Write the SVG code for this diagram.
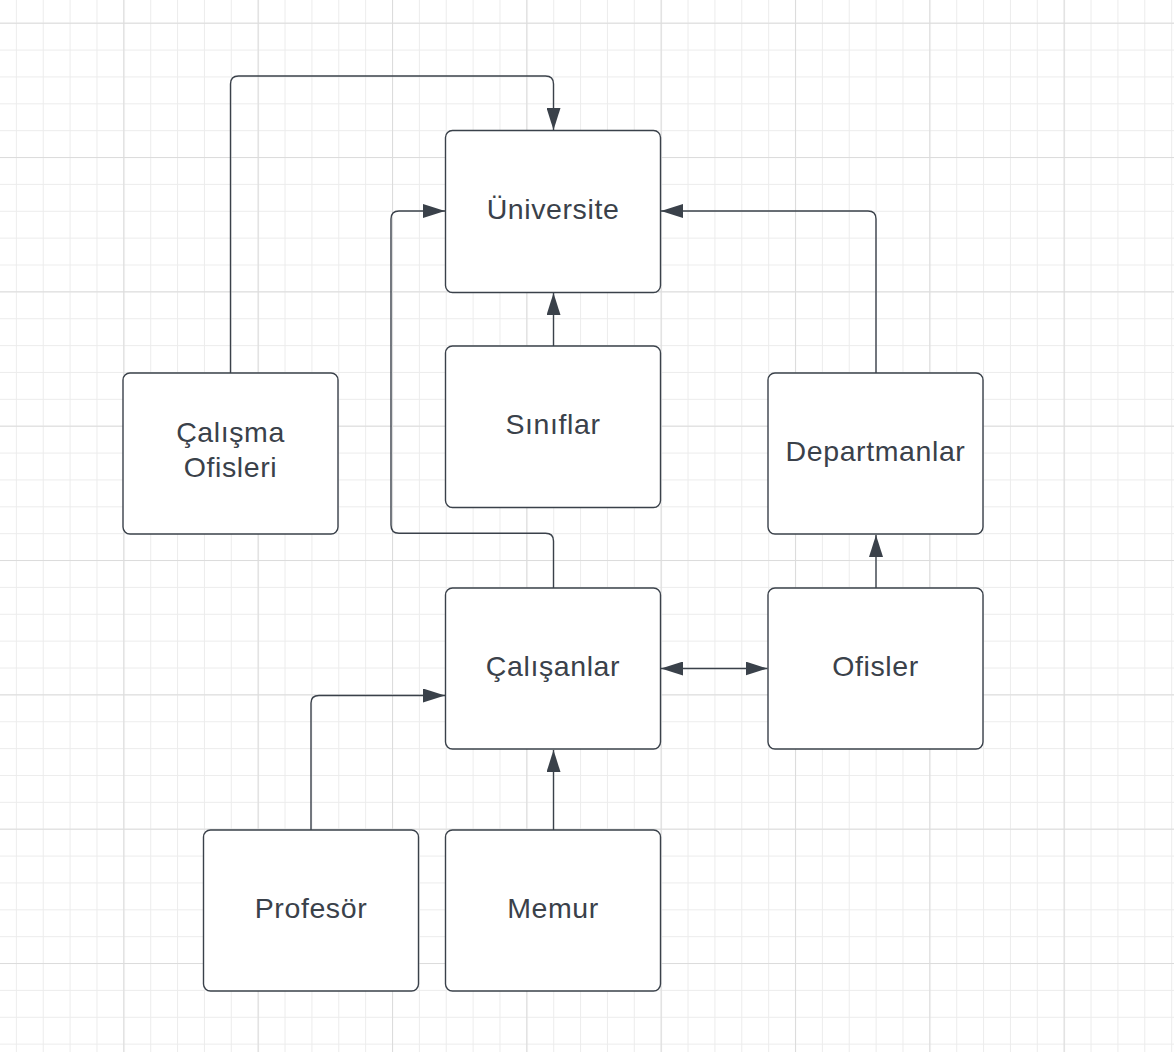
<svg xmlns="http://www.w3.org/2000/svg" width="1174" height="1052" viewBox="0 0 1174 1052">
<style>
.box{fill:#fff;stroke:#3a414a;stroke-width:1.4}
.lbl{font-family:"Liberation Sans",Arial,sans-serif;font-size:28.5px;letter-spacing:0.6px;fill:#3a414a;text-anchor:middle}
.edge{fill:none;stroke:#3a414a;stroke-width:1.4}
</style>
<defs>
<pattern id="minor" patternUnits="userSpaceOnUse" x="-11" y="22.7" width="26.867" height="26.867">
<path d="M0 0.5H26.867M0.5 0V26.867" fill="none" stroke="#ececec" stroke-width="1"/>
</pattern>
<pattern id="major" patternUnits="userSpaceOnUse" x="-11" y="22.7" width="134.33" height="134.33">
<path d="M0 0.5H134.33M0.5 0V134.33" fill="none" stroke="#dcdcdc" stroke-width="1.2"/>
</pattern>
<marker id="ah" viewBox="0 0 22 14" refX="22" refY="7" markerWidth="22" markerHeight="14" markerUnits="userSpaceOnUse" orient="auto-start-reverse">
<path d="M0 0L22 7L0 14Z" fill="#3a414a"/>
</marker>
</defs>
<rect width="1174" height="1052" fill="#fff"/>
<rect width="1174" height="1052" fill="url(#minor)"/>
<rect width="1174" height="1052" fill="url(#major)"/>

<g id="connectors">
<path class="edge" d="M230.5 373V84Q230.5 76 238.5 76H545.5Q553.5 76 553.5 84V130" marker-end="url(#ah)"/>
<path class="edge" d="M553.5 346V293" marker-end="url(#ah)"/>
<path class="edge" d="M876 373V219Q876 211 868 211H661" marker-end="url(#ah)"/>
<path class="edge" d="M553.5 588V541Q553.5 533.3 545.5 533.3H399Q391 533.3 391 525V219Q391 211 399 211H445" marker-end="url(#ah)"/>
<path class="edge" d="M661 668.5H767.5" marker-start="url(#ah)" marker-end="url(#ah)"/>
<path class="edge" d="M876 588V535" marker-end="url(#ah)"/>
<path class="edge" d="M311 830V703Q311 695.5 319 695.5H445" marker-end="url(#ah)"/>
<path class="edge" d="M553.5 830V750" marker-end="url(#ah)"/>
</g>

<g id="universite"><rect class="box" x="445.5" y="130.5" width="215" height="162" rx="7"/><text class="lbl" x="553" y="219">Üniversite</text></g>
<g id="siniflar"><rect class="box" x="445.5" y="346" width="215" height="161.5" rx="7"/><text class="lbl" x="553" y="434">Sınıflar</text></g>
<g id="calisma-ofisleri"><rect class="box" x="123" y="373" width="215" height="161" rx="7"/><text class="lbl" x="230.5" y="441.5">Çalışma</text><text class="lbl" x="230.5" y="476.5">Ofisleri</text></g>
<g id="departmanlar"><rect class="box" x="768" y="373" width="215" height="161" rx="7"/><text class="lbl" x="875.5" y="460.5">Departmanlar</text></g>
<g id="calisanlar"><rect class="box" x="445.5" y="588" width="215" height="161" rx="7"/><text class="lbl" x="553" y="676">Çalışanlar</text></g>
<g id="ofisler"><rect class="box" x="768" y="588" width="215" height="161" rx="7"/><text class="lbl" x="875.5" y="676">Ofisler</text></g>
<g id="profesor"><rect class="box" x="203.5" y="830" width="215" height="161" rx="7"/><text class="lbl" x="311" y="918">Profesör</text></g>
<g id="memur"><rect class="box" x="445.5" y="830" width="215" height="161" rx="7"/><text class="lbl" x="553" y="918">Memur</text></g>
</svg>
